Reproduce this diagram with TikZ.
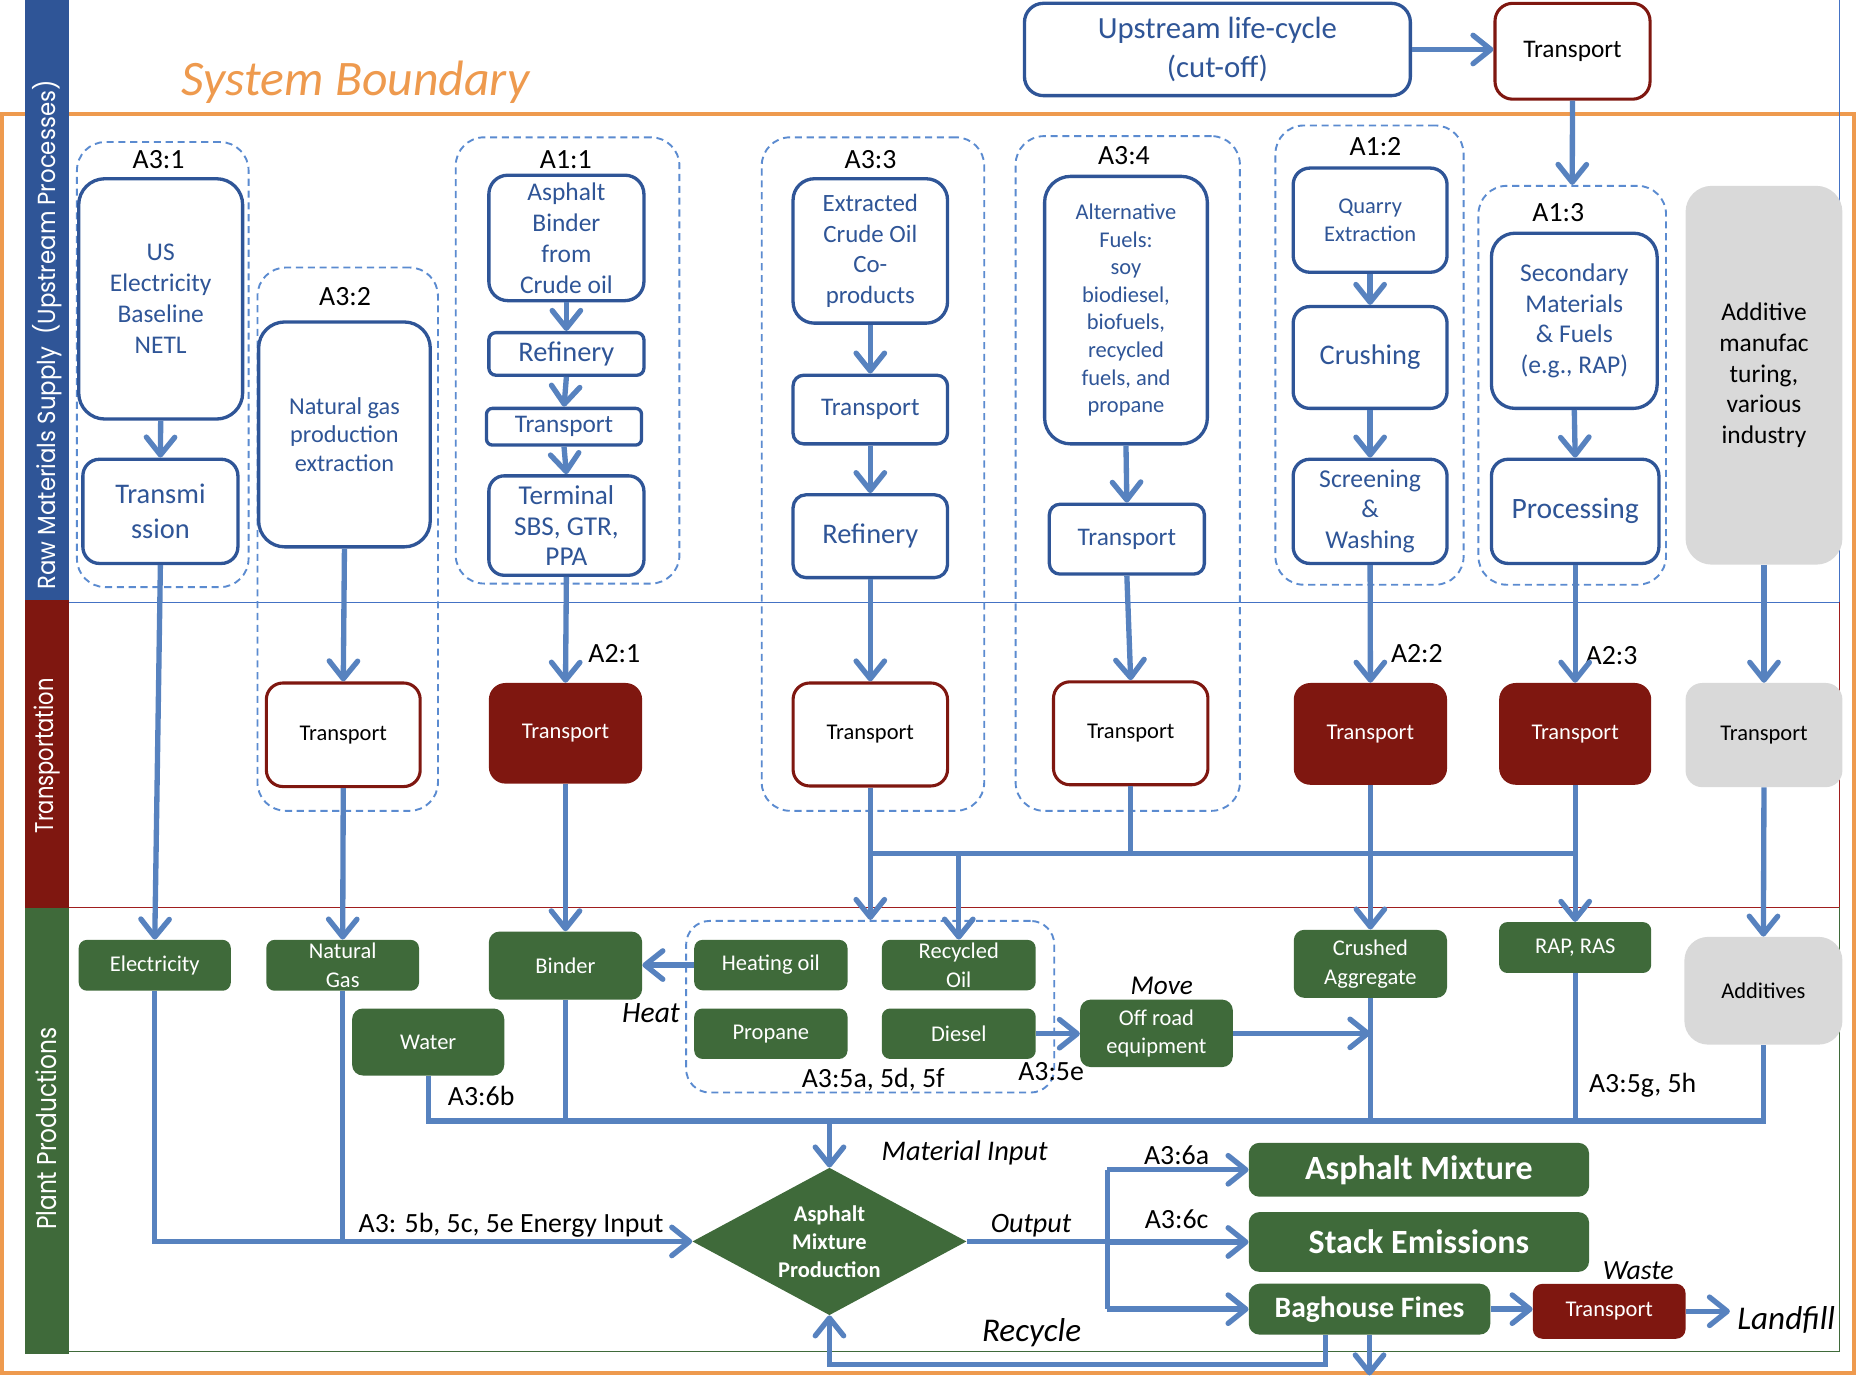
\documentclass[tikz,border=0pt]{standalone}
\usepackage{fontspec}
\usepackage{graphicx}
\setmainfont{Carlito}
\newfontfamily\lanefont{Poppins}
\usetikzlibrary{arrows.meta,shapes.geometric}
\definecolor{dblue}{HTML}{2F5597}
\definecolor{ablue}{HTML}{5782BF}
\definecolor{gblue}{HTML}{5B8BD0}
\definecolor{dred}{HTML}{7F1710}
\definecolor{dgreen}{HTML}{3F6A3A}
\definecolor{lgray}{HTML}{D9D9D9}
\definecolor{orng}{HTML}{EE9A4E}
\definecolor{laneblue}{HTML}{2F5597}
\definecolor{lanered}{HTML}{7F1710}
\definecolor{lanegreen}{HTML}{3F6A3A}
\definecolor{sepblue}{HTML}{4472C4}
\definecolor{sepred}{HTML}{A01E1E}
\newcommand\myfs[2]{\fontsize{#1}{#2}\selectfont}
\begin{document}
\begin{tikzpicture}[x=1pt,y=-1pt,
  bbox/.style={draw=dblue, line width=2.8pt, fill=white, text=dblue, rounded corners=#1, align=center, inner sep=0pt},
  bbox/.default=8pt,
  rbox/.style={draw=dred, line width=2.6pt, fill=white, text=black, rounded corners=14pt, align=center, inner sep=0pt, font={\myfs{19}{23}}},
  rfill/.style={fill=dred, text=white, rounded corners=#1, align=center, inner sep=0pt, font={\myfs{19}{23}}},
  rfill/.default=14pt,
  gbox/.style={fill=dgreen, text=white, rounded corners=7pt, align=center, inner sep=0pt, font={\myfs{19}{24.5}}},
  graybox/.style={fill=lgray, text=black, rounded corners=#1, align=center, inner sep=0pt},
  graybox/.default=20pt,
  grp/.style={draw=gblue, line width=1.6pt, dash pattern=on 6pt off 4pt, rounded corners=24pt, inner sep=0pt},
  conn/.style={draw=ablue, line width=4.5pt},
  flow/.style={conn, -{Straight Barb[length=15pt,width=24pt,round]}},
  lbl/.style={anchor=base, font={\myfs{23.5}{28}}, text=black, inner sep=0pt},
  ilbl/.style={anchor=base, font={\myfs{24}{28}\itshape}, text=black, inner sep=0pt}
]
\useasboundingbox (0,0) rectangle (1568,1162);

% system boundary
\draw[orng, line width=3pt] (1.5,1160) -- (1.5,96.3) -- (1566.5,96.3) -- (1566.5,1160) -- cycle;
\node[anchor=base, text=orng, font={\myfs{42}{46}\itshape}, inner sep=0pt] (sb) at (300.5,80.8) {System Boundary};

% lanes
\fill[laneblue] (21,0) rectangle (58,507);
\fill[lanered] (21,507) rectangle (58,767);
\fill[lanegreen] (21,767) rectangle (58,1143.5);
\draw[sepblue, line width=1pt] (58,509) -- (1554,509) (1554,0) -- (1554,509);
\draw[sepred, line width=1pt] (58,766.5) -- (1554,766.5) (1554,509) -- (1554,766.5);
\draw[lanegreen, line width=1pt] (58,1142) -- (1554,1142) (1554,766.5) -- (1554,1142);
\node[rotate=90, text=white, inner sep=0pt] (lane1) at (39.5,283) {\resizebox{430pt}{19.5pt}{\lanefont Raw Materials Supply\ \ (Upstream Processes)}};
\node[rotate=90, text=white, inner sep=0pt] (lane2) at (39.5,638.5) {\resizebox{131pt}{16.5pt}{\lanefont Transportation}};
\node[rotate=90, text=white, inner sep=0pt] (lane3) at (39.5,953.5) {\resizebox{171pt}{17.5pt}{\lanefont Plant Productions}};

% dashed groups
\node[grp, minimum width=145pt, minimum height=376pt] (g31) at (137.5,308) {};
\node[grp, minimum width=152.5pt, minimum height=459pt] (g32) at (293.75,455.5) {};
\node[grp, minimum width=189pt, minimum height=377pt] (g11) at (479.5,304.5) {};
\node[grp, minimum width=188pt, minimum height=569pt] (g33) at (737.5,400.5) {};
\node[grp, minimum width=189.5pt, minimum height=570pt] (g34) at (952.75,400) {};
\node[grp, minimum width=159pt, minimum height=388pt] (g12) at (1157,300) {};
\node[grp, minimum width=158.5pt, minimum height=337pt] (g13) at (1328.25,325.5) {};
\node[grp, rounded corners=20pt, minimum width=311pt, minimum height=145pt] (g5) at (735.15,850.5) {};

% top boxes
\node[bbox=16pt, minimum width=326pt, minimum height=78pt, font={\myfs{26}{33}}] (up) at (1028.5,41.8) {Upstream life-cycle\\(cut-off)};
\node[rbox, rounded corners=15pt, minimum width=131pt, minimum height=81pt, font={\myfs{21.4}{25}}] (ttop) at (1328.5,43.3) {Transport};

% raw materials boxes
\node[bbox=22pt, minimum width=138.5pt, minimum height=203pt, font={\myfs{21.5}{26}}] (usel) at (135.75,252.5) {US\\Electricity\\Baseline\\NETL};
\node[bbox=14pt, minimum width=131pt, minimum height=88pt, font={\myfs{24}{29}}] (trans) at (135.5,432) {Transmi\\ssion};
\node[bbox=22pt, minimum width=145pt, minimum height=190pt, font={\myfs{20.5}{24.2}}] (ngas) at (291,367) {Natural gas\\production\\extraction};
\node[bbox=16pt, minimum width=131pt, minimum height=106pt, font={\myfs{21.5}{26.2}}] (abin) at (478.5,201) {Asphalt\\Binder\\from\\Crude oil};
\node[bbox=6pt, minimum width=131pt, minimum height=36pt, font={\myfs{24}{28}}] (ref1) at (478.5,299) {Refinery};
\node[bbox=5pt, minimum width=131pt, minimum height=31pt, font={\myfs{21.4}{25}}] (tr1) at (476.5,360.5) {Transport};
\node[bbox=13pt, minimum width=131pt, minimum height=84pt, font={\myfs{23}{25.9}}] (term) at (478.5,444) {Terminal\\SBS, GTR,\\PPA};
\node[bbox=18pt, minimum width=130.5pt, minimum height=122pt, font={\myfs{21}{26}}] (extr) at (735.25,212) {Extracted\\Crude Oil\\Co-\\products};
\node[bbox=9pt, minimum width=130.5pt, minimum height=58pt, font={\myfs{21.4}{25}}] (tr3) at (735.25,346) {Transport};
\node[bbox=11pt, minimum width=130.5pt, minimum height=70pt, font={\myfs{24}{28}}] (ref3) at (735.25,453) {Refinery};
\node[bbox=22pt, minimum width=137.5pt, minimum height=226pt, font={\myfs{19}{23.3}}] (alt) at (951.25,262) {Alternative\\Fuels:\\soy\\biodiesel,\\biofuels,\\recycled\\fuels, and\\propane};
\node[bbox=9pt, minimum width=131pt, minimum height=59pt, font={\myfs{21.4}{25}}] (tr4) at (952,455.5) {Transport};
\node[bbox=14pt, minimum width=130pt, minimum height=88pt, font={\myfs{19}{23.3}}] (quar) at (1157.5,186) {Quarry\\Extraction};
\node[bbox=14pt, minimum width=130pt, minimum height=86pt, font={\myfs{24}{28}}] (crus) at (1157.5,302) {Crushing};
\node[bbox=14pt, minimum width=130pt, minimum height=88pt, font={\myfs{21.7}{26}}] (scr) at (1157.5,432) {Screening\\\&\\Washing};
\node[bbox=20pt, minimum width=140pt, minimum height=148pt, font={\myfs{21.6}{26}}] (sec) at (1330,271) {Secondary\\Materials\\\& Fuels\\(e.g., RAP)};
\node[bbox=14pt, minimum width=141.5pt, minimum height=88pt, font={\myfs{25}{29}}] (proc) at (1330.75,432) {Processing};
\node[graybox=22pt, minimum width=132.5pt, minimum height=320pt, font={\myfs{21.5}{26}}] (gadd) at (1490.25,317) {Additive\\manufac\\turing,\\various\\industry};

% transport row
\node[rbox, minimum width=130pt, minimum height=87.5pt] (t32) at (290,620.75) {Transport};
\node[rfill, minimum width=129.5pt, minimum height=85pt] (t21) at (477.75,619.5) {Transport};
\node[rbox, minimum width=130.5pt, minimum height=87pt] (t33) at (735.25,620.5) {Transport};
\node[rbox, minimum width=130.5pt, minimum height=87pt] (t34) at (955.25,619.5) {Transport};
\node[rfill, minimum width=129.5pt, minimum height=86pt] (t22) at (1157.75,620) {Transport};
\node[rfill, minimum width=128.5pt, minimum height=86pt] (t23) at (1330.75,620) {Transport};
\node[graybox=14pt, minimum width=132.5pt, minimum height=88pt, font={\myfs{19}{23}}] (tg) at (1490.25,621) {Transport};

% plant row
\node[gbox, minimum width=128.5pt, minimum height=43pt] (elec) at (130.75,815.5) {Electricity};
\node[gbox, minimum width=129pt, minimum height=43pt] (ngs) at (289.5,815.5) {Natural\\Gas};
\node[gbox, rounded corners=9pt, minimum width=129.5pt, minimum height=57.5pt] (bind) at (477.75,815.75) {Binder};
\node[gbox, minimum width=129.5pt, minimum height=42.6pt] (heat) at (651.25,815.3) {Heating oil};
\node[gbox, minimum width=130pt, minimum height=42.6pt] (rec) at (810,815.3) {Recycled\\Oil};
\node[gbox, minimum width=129.5pt, minimum height=42.6pt] (prop) at (651.25,873.3) {Propane};
\node[gbox, minimum width=130pt, minimum height=42.6pt] (dies) at (810,873.3) {Diesel};
\node[gbox, rounded corners=9pt, minimum width=128.5pt, minimum height=56.6pt] (water) at (361.75,880.3) {Water};
\node[gbox, rounded corners=9pt, minimum width=129pt, minimum height=57pt, font={\myfs{19}{24}}] (off) at (977,873) {Off road\\equipment};
\node[gbox, rounded corners=9pt, minimum width=129.5pt, minimum height=57.5pt] (crag) at (1157.75,814.25) {Crushed\\Aggregate};
\node[gbox, minimum width=128.5pt, minimum height=43pt] (rap) at (1330.75,800.5) {RAP, RAS};
\node[graybox=20pt, minimum width=133.5pt, minimum height=91pt, font={\myfs{19}{23}}] (addv) at (1489.75,837) {Additives};
\node[diamond, aspect=1.86, fill=dgreen, text=white, align=center, inner sep=0pt, minimum width=231.5pt, minimum height=124.5pt, font={\myfs{19}{23.6}\bfseries}] (dia) at (700.75,1048.8) {Asphalt\\Mixture\\Production};
\node[gbox, rounded corners=9pt, minimum width=287.5pt, minimum height=45.5pt, font={\myfs{28.7}{30}\bfseries}] (amix) at (1198.75,988.25) {Asphalt Mixture};
\node[gbox, rounded corners=9pt, minimum width=287.5pt, minimum height=50.5pt, font={\myfs{28.7}{30}\bfseries}] (stack) at (1198.75,1049.25) {Stack Emissions};
\node[gbox, rounded corners=9pt, minimum width=204pt, minimum height=43pt, font={\myfs{25}{28}\bfseries}] (bag) at (1157,1106) {Baghouse Fines};
\node[rfill=8pt, minimum width=129pt, minimum height=46.4pt] (twaste) at (1359.5,1107.8) {Transport};

% labels
\node[lbl] (lA31) at (134,142.3) {A3:1};
\node[lbl] (lA32) at (291.5,257.7) {A3:2};
\node[lbl] (lA11) at (478,142.3) {A1:1};
\node[lbl] (lA33) at (735.5,142.3) {A3:3};
\node[lbl] (lA34) at (949.5,139) {A3:4};
\node[lbl] (lA12) at (1162,131) {A1:2};
\node[lbl] (lA13) at (1316.5,187.5) {A1:3};
\node[lbl] (lA21) at (519,559.8) {A2:1};
\node[lbl] (lA22) at (1197,559.8) {A2:2};
\node[lbl] (lA23) at (1361.5,561.8) {A2:3};
\node[ilbl, font={\myfs{25}{28}\itshape}] (lheat) at (550,864) {Heat};
\node[lbl] (l6b) at (406.5,934) {A3:6b};
\node[lbl] (l5a) at (737.7,919) {A3:5a, 5d, 5f};
\node[lbl] (l5e) at (888,912.6) {A3:5e};
\node[ilbl, font={\myfs{23}{28}\itshape}] (lmove) at (981.5,840) {Move};
\node[ilbl] (lmat) at (815,980) {Material Input};
\node[lbl] (l6a) at (994,983.8) {A3:6a};
\node[lbl] (l6c) at (994,1038) {A3:6c};
\node[ilbl, font={\myfs{23.7}{28}\itshape}] (lout) at (871,1041.5) {Output};
\node[lbl] (lenergy) at (431.75,1041.5) {A3: 5b, 5c, 5e Energy Input};
\node[lbl] (l5g) at (1387.75,923.3) {A3:5g, 5h};
\node[ilbl, font={\myfs{23.5}{28}\itshape}] (lwaste) at (1384,1081) {Waste};
\node[ilbl, font={\myfs{28}{30}\itshape}] (landfill) at (1509,1123.5) {Landfill};
\node[ilbl, font={\myfs{28}{30}\itshape}] (lrec) at (871.5,1133) {Recycle};

% coordinates
\coordinate (cA) at (735.25,721);
\coordinate (cB) at (1330.75,721);
\coordinate (m1) at (361.75,947);
\coordinate (o1) at (935.5,1048.8);
\coordinate (r1) at (1120,1153);
\coordinate (dn) at (1157,1162);

% connectors
\draw[flow] (up.east) -- (ttop.west |- up.east);
\draw[flow] (ttop.south) -- (g13.north);
\draw[flow] (usel.south) -- (trans.north);
\draw[flow] (trans.south) -- (elec.north);
\draw[flow] (ngas.south) -- (t32.north);
\draw[flow] (t32.south) -- (ngs.north);
\draw[flow] (abin.south) -- (ref1.north);
\draw[flow] (ref1.south) -- (tr1.north);
\draw[flow] (tr1.south) -- (term.north);
\draw[flow] (term.south) -- (t21.north);
\draw[flow] (t21.south) -- (bind.north);
\draw[flow] (extr.south) -- (tr3.north);
\draw[flow] (tr3.south) -- (ref3.north);
\draw[flow] (ref3.south) -- (t33.north);
\draw[flow] (alt.south) -- (tr4.north);
\draw[flow] (tr4.south) -- (t34.north);
\draw[flow] (quar.south) -- (crus.north);
\draw[flow] (crus.south) -- (scr.north);
\draw[flow] (scr.south) -- (t22.north);
\draw[flow] (sec.south) -- (proc.north);
\draw[flow] (proc.south) -- (t23.north);
\draw[flow] (gadd.south) -- (tg.north);
\draw[flow] (tg.south) -- (addv.north);
\draw[flow] (t22.south) -- (crag.north);
\draw[flow] (t23.south) -- (rap.north);

\draw[flow] (t33.south) -- (t33.south |- g5.north);
\draw[conn] (cA) -- (cB);
\draw[conn] (t34.south) -- (t34.south |- cA);
\draw[flow] (rec.north |- cA) -- (rec.north);

\draw[flow] (heat.west) -- (bind.east |- heat.west);
\draw[flow] (dies.east) -- (off.west |- dies.east);
\draw[flow] (off.east) -- (crag.south |- off.east);

\draw[conn] (water.south) -- (m1) -- (addv.south |- m1) -- (addv.south);
\draw[conn] (bind.south) -- (bind.south |- m1);
\draw[conn] (crag.south) -- (crag.south |- m1);
\draw[conn] (rap.south) -- (rap.south |- m1);
\draw[flow] (dia.north |- m1) -- (dia.north);

\draw[flow] (elec.south) -- (elec.south |- dia.west) -- (dia.west);
\draw[conn] (ngs.south) -- (ngs.south |- dia.west);

\draw[conn] (dia.east) -- (o1);
\draw[conn] (o1 |- amix.west) -- (o1 |- bag.west);
\draw[flow] (o1 |- amix.west) -- (amix.west);
\draw[flow] (o1 |- stack.west) -- (stack.west);
\draw[flow] (o1 |- bag.west) -- (bag.west);

\draw[flow] (bag.east) -- (twaste.west |- bag.east);
\draw[flow, shorten >=6pt] (twaste.east) -- (landfill.west |- twaste.east);
\draw[flow] (bag.south -| r1) -- (r1) -- (dia.south |- r1) -- (dia.south);
\draw[flow] (bag.south) -- (dn);
\end{tikzpicture}
\end{document}
